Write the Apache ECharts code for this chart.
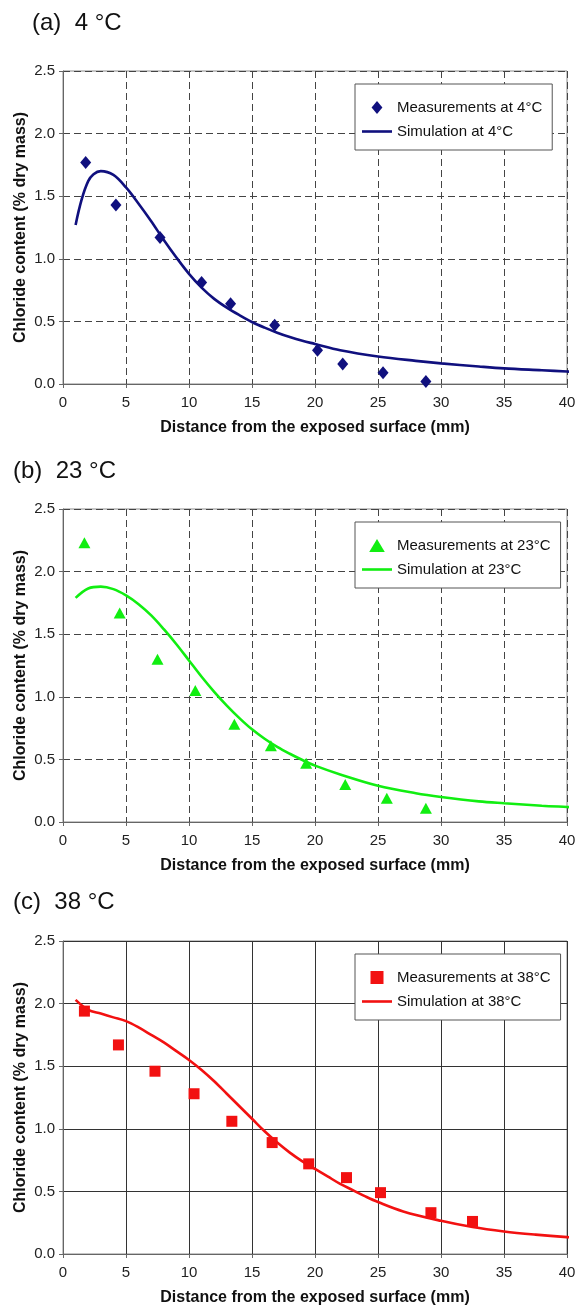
<!DOCTYPE html>
<html>
<head>
<meta charset="utf-8">
<script src="https://cdn.jsdelivr.net/npm/echarts@6/dist/echarts.min.js"></script>
<style>
html,body{margin:0;padding:0;background:#fff;}
#chart{width:580px;height:1307px;}
</style>
</head>
<body>
<div id="chart"></div>
<script>
// ---------- data ----------
const panelTitles = ['(a)  4 °C', '(b)  23 °C', '(c)  38 °C'];
const measNames = ['Measurements at 4°C', 'Measurements at 23°C', 'Measurements at 38°C'];
const simNames = ['Simulation at 4°C', 'Simulation at 23°C', 'Simulation at 38°C'];
const xTitle = 'Distance from the exposed surface (mm)';
const yTitle = 'Chloride content (% dry mass)';

// (a) 4 °C
const meas4 = [[1.8,1.77],[4.2,1.43],[7.7,1.17],[11.0,0.81],[13.3,0.64],[16.8,0.47],[20.2,0.27],[22.2,0.16],[25.4,0.09],[28.8,0.02]];
const sim4 = [[1,1.27],[2,1.62],[3,1.70],[4,1.67],[5,1.57],[6,1.44],[7,1.30],[8,1.15],[9,1.01],[10,0.88],[11,0.77],[12,0.68],[13,0.61],[14,0.55],[15,0.495],[16,0.45],[17,0.41],[18,0.375],[19,0.345],[20,0.32],[22,0.27],[25,0.22],[28,0.185],[30,0.165],[33,0.14],[35,0.125],[38,0.11],[40,0.10],[41,0.095]];

// (b) 23 °C
const meas23 = [[1.7,2.23],[4.5,1.67],[7.5,1.30],[10.5,1.05],[13.6,0.78],[16.5,0.61],[19.3,0.47],[22.4,0.30],[25.7,0.19],[28.8,0.11]];
const sim23 = [[1,1.79],[2,1.865],[3,1.88],[4,1.86],[5,1.81],[6,1.74],[7,1.65],[8,1.54],[9,1.42],[10,1.29],[11,1.16],[12,1.04],[13,0.93],[14,0.83],[15,0.74],[16,0.665],[17,0.60],[18,0.545],[19,0.495],[20,0.45],[22,0.38],[25,0.29],[28,0.23],[30,0.20],[33,0.165],[35,0.15],[38,0.13],[40,0.12],[41,0.115]];

// (c) 38 °C
const meas38 = [[1.7,1.94],[4.4,1.67],[7.3,1.46],[10.4,1.28],[13.4,1.06],[16.6,0.89],[19.5,0.72],[22.5,0.61],[25.2,0.49],[29.2,0.33],[32.5,0.26]];
const sim38 = [[1,2.03],[2,1.95],[3,1.92],[4,1.89],[5,1.86],[6,1.81],[7,1.75],[8,1.69],[9,1.62],[10,1.55],[11,1.47],[12,1.38],[13,1.28],[14,1.18],[15,1.08],[16,0.98],[17,0.89],[18,0.81],[19,0.74],[20,0.68],[21,0.62],[22,0.56],[23,0.51],[24,0.46],[25,0.415],[27,0.34],[30,0.265],[32.5,0.215],[35,0.18],[37.5,0.155],[40,0.135],[41,0.13]];

const measData = [meas4, meas23, meas38];
const simData = [sim4, sim23, sim38];

// ---------- styling ----------
const FONT = "'Liberation Sans', Arial, Helvetica, sans-serif";
const colors = ['#10107e', '#11ee11', '#f21111'];
const symbols = ['diamond', 'triangle', 'rect'];
const legendIcons = ['path://M5,0L10,6L5,12L0,6Z', 'path://M6,0L12,10L0,10Z', 'path://M0,0H10V10H0Z'];
const symbolSizes = [[11,13], [12,11], [11,11]];
const gridTops = [71, 509, 941];
const titleTops = [11, 459, 890];
const titleLefts = [32, 13, 13];
const legendTops = [84, 522, 954];

const option = {
  backgroundColor: '#fff',
  animation: false,
  title: [], grid: [], xAxis: [], yAxis: [], series: [], legend: []
};

for (let i = 0; i < 3; i++) {
  option.title.push({
    text: panelTitles[i], left: titleLefts[i], top: titleTops[i], padding: 0,
    textStyle: { fontFamily: FONT, fontSize: 24, fontWeight: 'normal', color: '#111' }
  });
  option.grid.push({
    left: 63, width: 504, top: gridTops[i], height: 313,
    show: true, borderColor: '#8a8a8a', borderWidth: 1, backgroundColor: 'transparent'
  });
  const splitStyle = i < 2
    ? { color: '#444', width: 1, type: [7, 4] }
    : { color: '#333', width: 1, type: 'solid' };
  option.xAxis.push({
    type: 'value', gridIndex: i, min: 0, max: 40, interval: 5,
    axisLine: { show: true, onZero: false, lineStyle: { color: '#666', width: 1 } },
    axisTick: { show: true, length: 4, lineStyle: { color: '#666' } },
    axisLabel: { margin: 11, fontFamily: FONT, fontSize: 15, color: '#222' },
    splitLine: { show: true, lineStyle: splitStyle },
    name: xTitle, nameLocation: 'middle', nameGap: 36, nameMoveOverlap: false,
    nameTextStyle: { fontFamily: FONT, fontSize: 16, fontWeight: 'bold', color: '#111' }
  });
  option.yAxis.push({
    type: 'value', gridIndex: i, min: 0, max: 2.5, interval: 0.5,
    axisLine: { show: true, onZero: false, lineStyle: { color: '#666', width: 1 } },
    axisTick: { show: true, length: 4, lineStyle: { color: '#666' } },
    axisLabel: { margin: 8, fontFamily: FONT, fontSize: 15, color: '#222',
      formatter: v => v.toFixed(1) },
    splitLine: { show: true, lineStyle: splitStyle },
    name: yTitle, nameLocation: 'middle', nameGap: 34, nameRotate: 90, nameMoveOverlap: false,
    nameTextStyle: { fontFamily: FONT, fontSize: 16, fontWeight: 'bold', color: '#111' }
  });
  option.series.push({
    type: 'line', name: simNames[i], xAxisIndex: i, yAxisIndex: i,
    data: simData[i], symbol: 'none', smooth: 0.35, clip: false,
    lineStyle: { color: colors[i], width: 2.6 }, itemStyle: { color: colors[i] }, z: 3
  });
  option.series.push({
    type: 'scatter', name: measNames[i], xAxisIndex: i, yAxisIndex: i,
    data: measData[i], symbol: symbols[i], symbolSize: symbolSizes[i],
    itemStyle: { color: colors[i], opacity: 1 }, z: 4
  });
  option.legend.push({
    orient: 'vertical', left: 355, top: legendTops[i],
    data: [
      { name: measNames[i], icon: legendIcons[i] },
      { name: simNames[i], icon: 'path://M0,0H30V2.6H0Z' }
    ],
    symbolKeepAspect: true,
    backgroundColor: '#fff', borderColor: '#555', borderWidth: 1,
    padding: [16, 10, 11, 7], itemGap: 9, itemWidth: 30, itemHeight: 13,
    textStyle: { fontFamily: FONT, fontSize: 15, color: '#111' },
    selectedMode: false, z: 10
  });
}

const chart = echarts.init(document.getElementById('chart'), null, { renderer: 'canvas' });
chart.setOption(option);
</script>
</body>
</html>
